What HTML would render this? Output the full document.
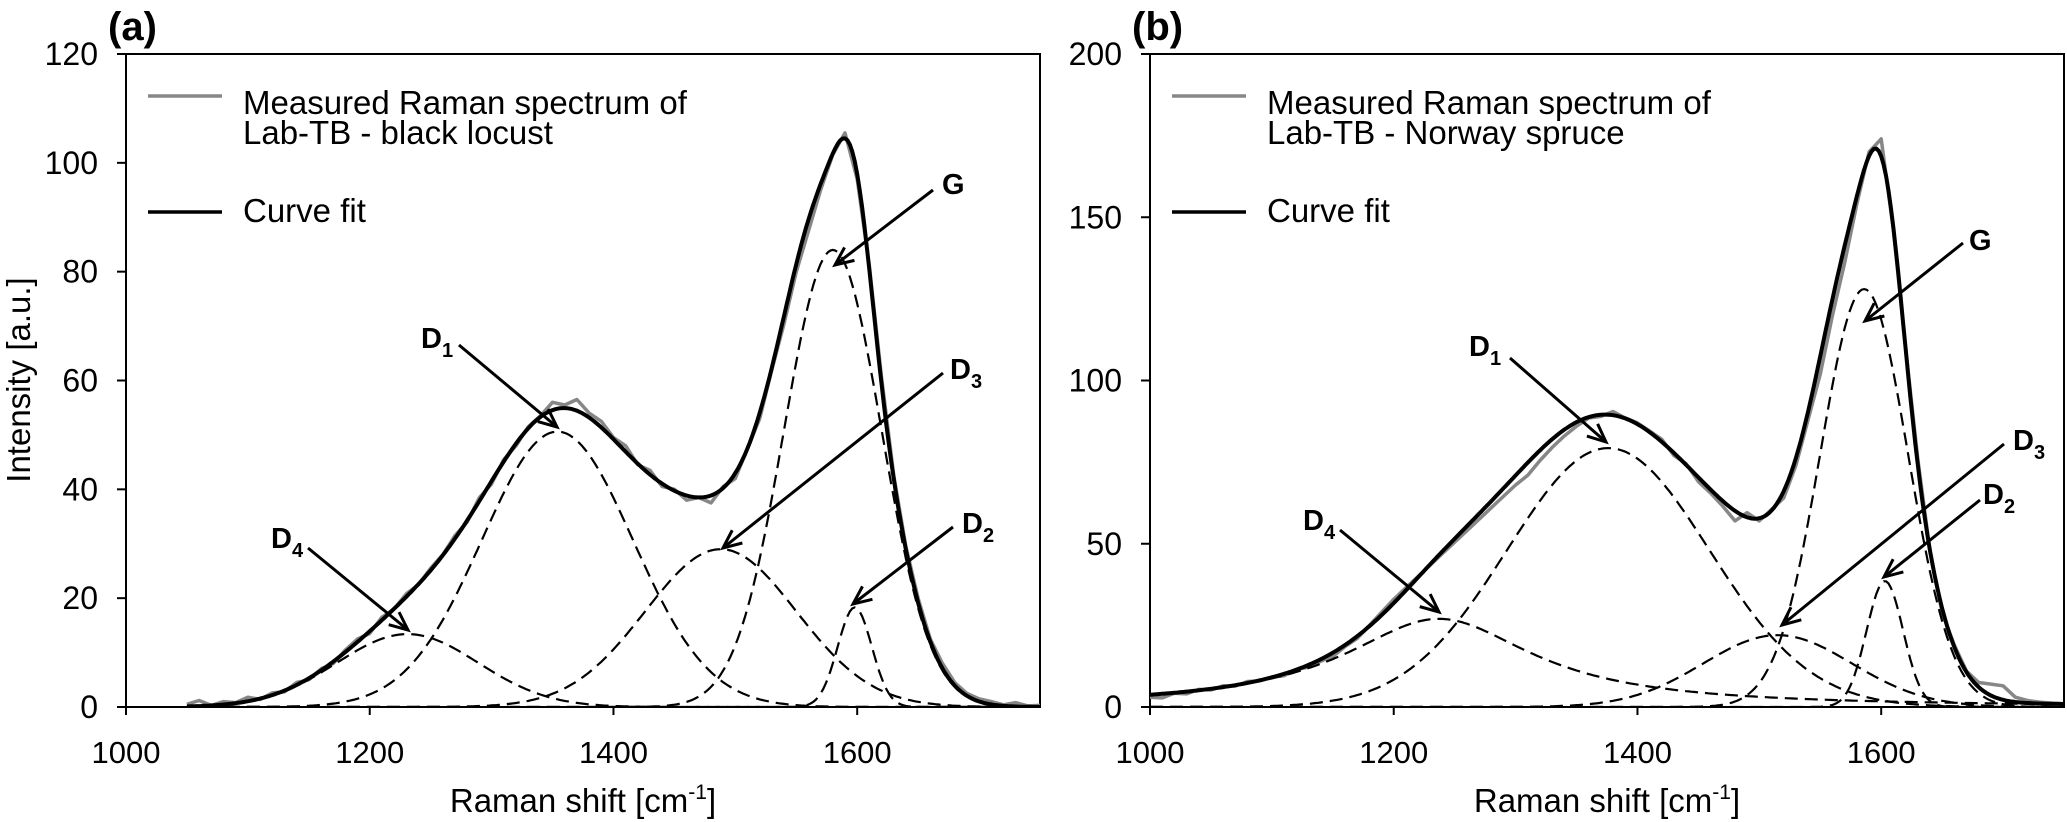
<!DOCTYPE html>
<html><head><meta charset="utf-8"><style>
html,body{margin:0;padding:0;background:#fff;}
svg{display:block;font-family:"Liberation Sans",Arial,sans-serif;}
</style></head><body>
<svg id="chart" width="2067" height="822" viewBox="0 0 2067 822" xmlns="http://www.w3.org/2000/svg">
<defs>
<clipPath id="clipA"><rect x="126" y="54" width="914" height="653"/></clipPath>
<clipPath id="clipB"><rect x="1150" y="54" width="914" height="653"/></clipPath>
</defs>
</svg>
<script>
// ---------- Panel (a) data ----------
const peakNamesA   = ["D4","D1","D3","G","D2"];
const peakCentersA = [1231,1354,1488,1580,1598];
const peakHeightsA = [13.4,50.6,29,84,18.3];
const peakWidthsA  = [58,62,62,40,14];
const peakShapesA  = ["g","g","g","g","g"];
const measuredStartA = 1050;
const measuredStepA = 10;
const measuredA = [0.5,1.2,0.3,1.0,0.8,1.8,1.4,2.6,2.8,4.5,5.0,7.0,8.0,10.5,12.5,13.5,16.5,18.0,20.8,22.5,25.5,28.0,31.5,34.0,38.5,41.0,45.5,48.0,51.5,53.5,56.0,55.5,56.5,54.0,52.5,49.5,48.0,44.5,43.5,40.5,40.0,38.0,38.5,37.5,40.5,42.0,47.5,53.0,62.0,70.5,80.0,87.5,95.0,101.5,105.5,97.0,81.0,60.5,42.5,29.5,20.0,12.5,8.0,4.5,2.5,1.5,1.0,0.4,0.8,0.2,0.3];
const yTicksA = [0,20,40,60,80,100,120];
// ---------- Panel (b) data ----------
const peakNamesB   = ["D4","D1","D3","G","D2"];
const peakCentersB = [1237,1376,1515,1586,1603];
const peakHeightsB = [27,79.3,22,128,38.6];
const peakWidthsB  = [95,83,61,36,15];
const peakShapesB  = ["l","g","g","g","g"];
const measuredStartB = 1000;
const measuredStepB = 10;
const measuredB = [3.0,2.8,4.2,4.0,5.4,5.2,6.5,6.4,7.8,8.0,9.2,9.6,11.5,12.2,14.0,15.5,18.5,21.0,25.0,29.0,33.0,36.5,40.0,43.5,47.0,50.5,54.0,57.5,61.0,64.5,68.0,71.0,75.5,79.5,83.0,86.0,88.5,89.0,90.5,88.5,87.0,84.5,82.0,77.0,74.5,69.0,65.5,61.5,57.0,59.5,57.0,60.5,64.0,74.0,88.0,102.0,120.0,136.0,154.0,170.0,174.0,146.0,110.0,76.0,48.0,29.0,19.0,11.0,7.5,7.0,6.5,3.0,2.0,1.5,1.2,1.0];
const yTicksB = [0,50,100,150,200];
const xTicks = [1000,1200,1400,1600];

const NS = "http://www.w3.org/2000/svg";
const svg = document.getElementById("chart");
function mk(tag, attrs, parent){
  const e = document.createElementNS(NS, tag);
  for (const k in attrs) e.setAttribute(k, attrs[k]);
  (parent||svg).appendChild(e);
  return e;
}
function peakVal(shape,c,h,w,x){
  if (shape==="l") return h/(1+Math.pow((x-c)/w,2));
  return h*Math.exp(-Math.pow(x-c,2)/(2*w*w));
}

function drawPanel(p){
  const g = mk("g",{});
  
  
  const xs = v => p.left + (v-1000)/750*(p.right-p.left);
  const ys = v => p.bottom - v/p.ymax*(p.bottom-p.top);

  const frame = mk("rect",{x:p.left,y:p.top,width:p.right-p.left,height:p.bottom-p.top,fill:"none",stroke:"#000","stroke-width":2},g);
  
  

  p.yTicks.forEach(t=>{
    const y = ys(t);
    const tk = mk("line",{x1:p.left-9,x2:p.left,y1:y,y2:y,stroke:"#000","stroke-width":2},g);
    
    
    const tl = mk("text",{x:p.left-28,y:y+11,"text-anchor":"end","font-size":32},g);
    tl.textContent = t;
    
    
  });
  xTicks.forEach(t=>{
    const x = xs(t);
    const tk = mk("line",{x1:x,x2:x,y1:p.bottom,y2:p.bottom+8,stroke:"#000","stroke-width":2},g);
    
    
    const tl = mk("text",{x:x,y:763,"text-anchor":"middle","font-size":31},g);
    tl.textContent = t;
    
    
  });
  const xt = mk("text",{x:(p.left+p.right)/2,y:812,"text-anchor":"middle","font-size":33},g);
  xt.innerHTML = 'Raman shift [cm<tspan dy="-13" font-size="21">-1</tspan><tspan dy="13">]</tspan>';
  
  

  const pl = mk("text",{x:p.left-18,y:40,"font-size":40,"font-weight":"bold"},g);
  pl.textContent = p.letter;
  
  

  const cg = mk("g",{"clip-path":"url(#"+p.clip+")"},g);
  let d = "";
  p.measured.forEach((v,i)=>{
    const x = p.mStart + i*p.mStep;
    d += (i?"L":"M")+xs(x).toFixed(1)+","+ys(v).toFixed(1);
  });
  const meas = mk("path",{d:d,fill:"none",stroke:"#878787","stroke-width":3.5,"stroke-linejoin":"round"},cg);
  
  

  const fitPts = [];
  for (let x=p.cStart; x<=1750; x+=2) fitPts.push(x);
  p.names.forEach((n,k)=>{
    let dd = "";
    fitPts.forEach((x,i)=>{
      const v = peakVal(p.shapes[k],p.centers[k],p.heights[k],p.widths[k],x);
      dd += (i?"L":"M")+xs(x).toFixed(1)+","+ys(v).toFixed(1);
    });
    const cp = mk("path",{d:dd,fill:"none",stroke:"#000","stroke-width":2.2,"stroke-dasharray":"13 7"},cg);
    
    
  });
  let fd = "";
  fitPts.forEach((x,i)=>{
    let s = 0;
    p.names.forEach((n,k)=>{ s += peakVal(p.shapes[k],p.centers[k],p.heights[k],p.widths[k],x); });
    fd += (i?"L":"M")+xs(x).toFixed(1)+","+ys(s).toFixed(1);
  });
  const fit = mk("path",{d:fd,fill:"none",stroke:"#000","stroke-width":4,"stroke-linejoin":"round"},cg);
  
  

  const lg = mk("g",{},g);
  
  
  const l1 = mk("line",{x1:p.left+22,x2:p.left+96,y1:96,y2:96,stroke:"#878787","stroke-width":3.5},lg);
  
  
  const t1 = mk("text",{x:p.left+117,y:114,"font-size":33},lg);
  t1.textContent = "Measured Raman spectrum of";
  
  
  const t2 = mk("text",{x:p.left+117,y:144,"font-size":33},lg);
  t2.textContent = p.sample;
  
  
  const l2 = mk("line",{x1:p.left+22,x2:p.left+96,y1:212,y2:212,stroke:"#000","stroke-width":3.5},lg);
  
  
  const t3 = mk("text",{x:p.left+117,y:222,"font-size":33},lg);
  t3.textContent = "Curve fit";
  
  

  p.ann.forEach(a=>{
    const ag = mk("g",{},g);
    
    
    const tx = mk("text",{x:a.tx,y:a.ty,"font-size":29,"font-weight":"bold"},ag);
    if (a.n==="G") tx.textContent = "G";
    else tx.innerHTML = 'D<tspan dy="9" font-size="20">'+a.n.slice(1)+'</tspan>';
    mk("line",{x1:a.x1,y1:a.y1,x2:a.x2,y2:a.y2,stroke:"#000","stroke-width":3},ag);
    const ang = Math.atan2(a.y2-a.y1,a.x2-a.x1);
    const L = 20, w = 0.42;
    const hx1 = a.x2 - L*Math.cos(ang-w), hy1 = a.y2 - L*Math.sin(ang-w);
    const hx2 = a.x2 - L*Math.cos(ang+w), hy2 = a.y2 - L*Math.sin(ang+w);
    mk("path",{d:"M"+hx1+","+hy1+"L"+a.x2+","+a.y2+"L"+hx2+","+hy2,fill:"none",stroke:"#000","stroke-width":3},ag);
  });
}

drawPanel({id:"panel-a",letter:"(a)",left:126,right:1040,top:54,bottom:707,ymax:120,yTicks:yTicksA,clip:"clipA",
  names:peakNamesA,centers:peakCentersA,heights:peakHeightsA,widths:peakWidthsA,shapes:peakShapesA,
  measured:measuredA,mStart:measuredStartA,mStep:measuredStepA,cStart:1050,
  sample:"Lab-TB - black locust",
  ann:[
    {n:"D1",tx:421,ty:348,x1:459,y1:345,x2:557,y2:427},
    {n:"D4",tx:271,ty:548,x1:308,y1:548,x2:408,y2:630},
    {n:"G",tx:942,ty:194,x1:933,y1:190,x2:835,y2:265},
    {n:"D3",tx:950,ty:379,x1:943,y1:373,x2:723,y2:548},
    {n:"D2",tx:962,ty:533,x1:953,y1:527,x2:853,y2:604}
  ]});
drawPanel({id:"panel-b",letter:"(b)",left:1150,right:2064,top:54,bottom:707,ymax:200,yTicks:yTicksB,clip:"clipB",
  names:peakNamesB,centers:peakCentersB,heights:peakHeightsB,widths:peakWidthsB,shapes:peakShapesB,
  measured:measuredB,mStart:measuredStartB,mStep:measuredStepB,cStart:1000,
  sample:"Lab-TB - Norway spruce",
  ann:[
    {n:"D1",tx:1469,ty:356,x1:1510,y1:358,x2:1606,y2:442},
    {n:"D4",tx:1303,ty:530,x1:1340,y1:530,x2:1439,y2:612},
    {n:"G",tx:1969,ty:250,x1:1963,y1:243,x2:1865,y2:321},
    {n:"D3",tx:2013,ty:450,x1:2004,y1:444,x2:1782,y2:625},
    {n:"D2",tx:1983,ty:504,x1:1980,y1:500,x2:1884,y2:577}
  ]});

const yt = mk("text",{x:0,y:0,"text-anchor":"middle","font-size":33,transform:"translate(30,380) rotate(-90)"});
yt.textContent = "Intensity [a.u.]";


</script>
</body></html>
